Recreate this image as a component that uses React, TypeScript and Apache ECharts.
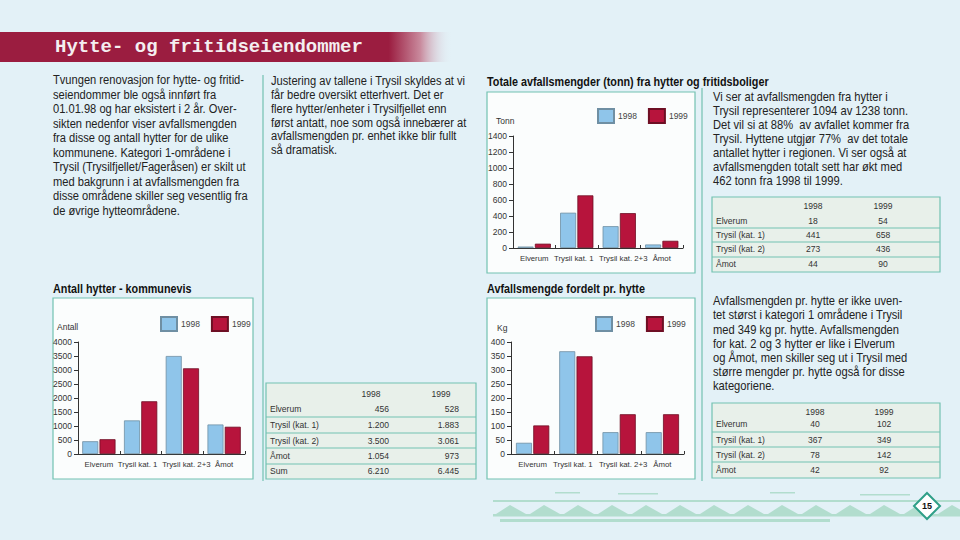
import React, { useEffect, useRef } from 'react';
import * as echarts from 'echarts';

const categories = ['Elverum', 'Trysil kat. 1', 'Trysil kat. 2+3', 'Åmot'];
const years = ['1998', '1999'];
const tonn1998 = [18, 441, 273, 44];
const tonn1999 = [54, 658, 436, 90];
const antall1998 = [456, 1200, 3500, 1054];
const antall1999 = [528, 1883, 3061, 973];
const kg1998 = [40, 367, 78, 78];
const kg1999 = [102, 349, 142, 142];

const tableRows = ['Elverum', 'Trysil (kat. 1)', 'Trysil (kat. 2)', 'Åmot'];
const tonnTable1998 = ['18', '441', '273', '44'];
const tonnTable1999 = ['54', '658', '436', '90'];
const antallRows = ['Elverum', 'Trysil (kat. 1)', 'Trysil (kat. 2)', 'Åmot', 'Sum'];
const antallTable1998 = ['456', '1.200', '3.500', '1.054', '6.210'];
const antallTable1999 = ['528', '1.883', '3.061', '973', '6.445'];
const kgTable1998 = ['40', '367', '78', '42'];
const kgTable1999 = ['102', '349', '142', '92'];

const pageTitle = 'Hytte- og fritidseiendommer';
const chartTitles = [
  'Totale avfallsmengder (tonn) fra hytter og fritidsboliger',
  'Antall hytter - kommunevis',
  'Avfallsmengde fordelt pr. hytte',
];
const axisNames = ['Tonn', 'Antall', 'Kg'];
const pageNumber = '15';

const introLines = [
  'Tvungen renovasjon for hytte- og fritid-',
  'seiendommer ble også innført fra',
  '01.01.98 og har eksistert i 2 år. Over-',
  'sikten nedenfor viser avfallsmengden',
  'fra disse og antall hytter for de ulike',
  'kommunene. Kategori 1-områdene i',
  'Trysil (Trysilfjellet/Fageråsen) er skilt ut',
  'med bakgrunn i at avfallsmengden fra',
  'disse områdene skiller seg vesentlig fra',
  'de øvrige hytteområdene.',
];
const midLines = [
  'Justering av tallene i Trysil skyldes at vi',
  'får bedre oversikt etterhvert. Det er',
  'flere hytter/enheter i Trysilfjellet enn',
  'først antatt, noe som også innebærer at',
  'avfallsmengden pr. enhet ikke blir fullt',
  'så dramatisk.',
];
const topRightLines = [
  'Vi ser at avfallsmengden fra hytter i',
  'Trysil representerer 1094 av 1238 tonn.',
  'Det vil si at 88%  av avfallet kommer fra',
  'Trysil. Hyttene utgjør 77%  av det totale',
  'antallet hytter i regionen. Vi ser også at',
  'avfallsmengden totalt sett har økt med',
  '462 tonn fra 1998 til 1999.',
];
const bottomRightLines = [
  'Avfallsmengden pr. hytte er ikke uven-',
  'tet størst i kategori 1 områdene i Trysil',
  'med 349 kg pr. hytte. Avfallsmengden',
  'for kat. 2 og 3 hytter er like i Elverum',
  'og Åmot, men skiller seg ut i Trysil med',
  'større mengder pr. hytte også for disse',
  'kategoriene.',
];

const FONT = '"Liberation Sans", Arial, Helvetica, sans-serif';
const C98 = '#8fc5ea';
const C98B = '#6f8fa3';
const C99 = '#b7143c';
const C99B = '#6e0f24';
const TEAL = '#72c2b1';

function txt(x: number, y: number, text: string, o: any = {}) {
  return {
    type: 'text',
    x,
    y,
    scaleX: o.scaleX ?? 1,
    silent: true,
    style: {
      text,
      fontSize: o.size ?? 12,
      fontFamily: o.family ?? FONT,
      fontWeight: o.weight ?? 'normal',
      fill: o.fill ?? '#222',
      align: o.align ?? 'left',
      verticalAlign: 'middle',
      textAlign: o.align ?? 'left',
      textVerticalAlign: 'middle',
    },
  };
}

function paragraph(x: number, y0: number, step: number, lines: string[], o: any) {
  return lines.map((l, i) => txt(x, y0 + i * step, l, o));
}

function table(
  x0: number, x1: number, y0: number, y1: number,
  headerY: number, rowYs: number[], seps: number[],
  labels: string[], c1: string[], c2: string[],
  col1: number, col2: number, align: string
) {
  const els: any[] = [];
  els.push({
    type: 'rect', silent: true,
    shape: { x: x0, y: y0, width: x1 - x0, height: y1 - y0 },
    style: { fill: '#e8f0ea', stroke: TEAL, lineWidth: 1.2 },
  });
  seps.forEach((s) => {
    els.push({
      type: 'line', silent: true,
      shape: { x1: x0, y1: s, x2: x1, y2: s },
      style: { stroke: TEAL, lineWidth: 1.2 },
    });
  });
  const o = { size: 9.5, scaleX: 0.9, fill: '#333' };
  const hx1 = align === 'right' ? col1 - 18 : col1;
  const hx2 = align === 'right' ? col2 - 18 : col2;
  els.push(txt(hx1, headerY, years[0], { ...o, align: 'center' }));
  els.push(txt(hx2, headerY, years[1], { ...o, align: 'center' }));
  labels.forEach((lab, i) => {
    els.push(txt(x0 + 4, rowYs[i], lab, o));
    els.push(txt(col1, rowYs[i], c1[i], { ...o, align }));
    els.push(txt(col2, rowYs[i], c2[i], { ...o, align }));
  });
  return els;
}

function box(x: number, y: number, w: number, h: number) {
  return {
    type: 'rect', silent: true,
    shape: { x, y, width: w, height: h },
    style: { fill: '#fbfdfd', stroke: TEAL, lineWidth: 1.2 },
  };
}

function decoration() {
  const fill = '#b2ddce';
  const els: any[] = [];
  const r = (x: number, y: number, w: number, h: number) =>
    els.push({ type: 'rect', silent: true, shape: { x, y, width: w, height: h }, style: { fill } });
  r(493, 500, 467, 2);
  r(493, 514, 467, 2.5);
  r(500, 519, 330, 3);
  r(555, 492, 25, 1.5);
  r(618, 493, 40, 1.5);
  r(770, 492, 25, 1.5);
  r(860, 494, 50, 1.5);
  for (let x = 496; x < 955; x += 34) {
    els.push({
      type: 'polygon', silent: true,
      shape: { points: [[x, 514], [x + 14, 505], [x + 30, 514]] },
      style: { fill },
    });
  }
  return els;
}

const LABEL_SIZE = 7.8;
const labelRich: any = {
  c0: { fontSize: LABEL_SIZE, color: '#333', fontFamily: FONT },
  c1: { fontSize: LABEL_SIZE, color: '#333', fontFamily: FONT, padding: [0, 6, 0, 0] },
  c2: { fontSize: LABEL_SIZE, color: '#333', fontFamily: FONT, padding: [0, 0, 0, 8] },
  c3: { fontSize: LABEL_SIZE, color: '#333', fontFamily: FONT },
};

function makeAxes(gi: number, max: number, interval: number) {
  const x = {
    type: 'category', gridIndex: gi, data: categories,
    axisLine: { lineStyle: { color: '#333', width: 1 } },
    axisTick: { show: true, length: 3, inside: true, lineStyle: { color: '#333' } },
    axisLabel: {
      interval: 0, fontSize: LABEL_SIZE, color: '#333', fontFamily: FONT, margin: 6,
      formatter: (v: string, i: number) => `{c${i}|${v}}`,
      rich: labelRich,
    },
  };
  const y = {
    type: 'value', gridIndex: gi, min: 0, max, interval,
    axisLine: { show: true, lineStyle: { color: '#333', width: 1 } },
    axisTick: { show: true, length: 4, lineStyle: { color: '#333' } },
    axisLabel: {
      fontSize: 8.5, color: '#333', fontFamily: FONT, margin: 6,
      formatter: (v: number) => String(v),
    },
    splitLine: { show: false },
  };
  return { x, y };
}

function bars(gi: number, d98: number[], d99: number[]) {
  const base = { type: 'bar', xAxisIndex: gi, yAxisIndex: gi, barWidth: 16, barGap: '8%' };
  return [
    { ...base, name: years[0], data: d98, itemStyle: { color: C98, borderColor: C98B, borderWidth: 0.8 } },
    { ...base, name: years[1], data: d99, itemStyle: { color: C99, borderColor: C99B, borderWidth: 0.8 } },
  ];
}

function legend(left: number, top: number) {
  return {
    left, top, data: years, icon: 'rect', itemWidth: 16, itemHeight: 14, itemGap: 11,
    selectedMode: false,
    textStyle: { fontSize: 8.5, color: '#444', fontFamily: FONT, padding: [0, 0, 0, -1] },
  };
}

export default function App() {
  const ref = useRef<HTMLDivElement>(null);
  useEffect(() => {
    if (!ref.current) return;
    const chart = echarts.init(ref.current, undefined, { renderer: 'svg' });
    const a0 = makeAxes(0, 1400, 200);
    const a1 = makeAxes(1, 4000, 500);
    const a2 = makeAxes(2, 400, 50);

    const bodyO = { size: 12.5, scaleX: 0.89 };
    const rightO = { size: 13, scaleX: 0.86 };
    const titleO = { size: 12, scaleX: 0.9, weight: 'bold', fill: '#111' };

    const graphic: any[] = [
      {
        type: 'rect', silent: true,
        shape: { x: 0, y: 32, width: 452, height: 30 },
        style: {
          fill: new echarts.graphic.LinearGradient(0, 0, 1, 0, [
            { offset: 0, color: '#9b1d40' },
            { offset: 0.86, color: '#9b1d40' },
            { offset: 0.93, color: '#c98a9d' },
            { offset: 1, color: 'rgba(227,241,247,0)' },
          ]),
        },
      },
      txt(55, 47, pageTitle, { size: 19, family: '"Liberation Mono", "DejaVu Sans Mono", monospace', weight: 'bold', fill: '#f4eef0' }),
      ...paragraph(53, 80, 14.5, introLines, bodyO),
      ...paragraph(271, 81, 13.8, midLines, bodyO),
      ...paragraph(713, 97, 14, topRightLines, rightO),
      ...paragraph(713, 301, 14.2, bottomRightLines, rightO),
      {
        type: 'line', silent: true,
        shape: { x1: 263, y1: 75, x2: 263, y2: 481 },
        style: { stroke: TEAL, lineWidth: 1.2 },
      },
      {
        type: 'line', silent: true,
        shape: { x1: 702, y1: 88, x2: 702, y2: 481 },
        style: { stroke: TEAL, lineWidth: 1.2 },
      },
      box(487, 92, 208, 181),
      box(53, 298, 200, 181),
      box(487, 298, 208, 181),
      txt(487, 82, chartTitles[0], titleO),
      txt(53, 289, chartTitles[1], titleO),
      txt(487, 289, chartTitles[2], titleO),
      txt(496, 121, axisNames[0], { size: 8.5, fill: '#333' }),
      txt(57, 327, axisNames[1], { size: 8.5, fill: '#333' }),
      txt(497, 328, axisNames[2], { size: 8.5, fill: '#333' }),
      ...table(712, 940, 197, 272, 206, [221, 235, 249, 264], [228, 242, 257],
        tableRows, tonnTable1998, tonnTable1999, 813, 883, 'center'),
      ...table(266, 476, 383, 479, 394, [409, 425, 441, 456, 471], [417, 433, 448, 464],
        antallRows, antallTable1998, antallTable1999, 389, 459, 'right'),
      ...table(712, 940, 403, 478, 412, [424, 440, 455, 470], [432, 447, 462],
        tableRows, kgTable1998, kgTable1999, 815, 884, 'center'),
      ...decoration(),
      {
        type: 'polygon', silent: true,
        shape: { points: [[927, 493], [940, 506], [927, 519], [914, 506]] },
        style: { fill: '#ffffff', stroke: '#2f9f88', lineWidth: 2 },
      },
      txt(927, 506, pageNumber, { size: 9, weight: 'bold', align: 'center', fill: '#111' }),
    ];

    chart.setOption({
      animation: false,
      backgroundColor: '#e3f1f7',
      grid: [
        { left: 513, top: 136, width: 170, height: 112 },
        { left: 78, top: 342, width: 167, height: 112 },
        { left: 511, top: 342, width: 173, height: 112 },
      ],
      xAxis: [a0.x, a1.x, a2.x],
      yAxis: [a0.y, a1.y, a2.y],
      legend: [legend(592, 103), legend(155, 311), legend(590, 311)],
      series: [...bars(0, tonn1998, tonn1999), ...bars(1, antall1998, antall1999), ...bars(2, kg1998, kg1999)],
      graphic,
    });
    return () => chart.dispose();
  }, []);
  return <div ref={ref} style={{ position: 'absolute', left: 0, top: 0, width: 960, height: 540 }} />;
}
